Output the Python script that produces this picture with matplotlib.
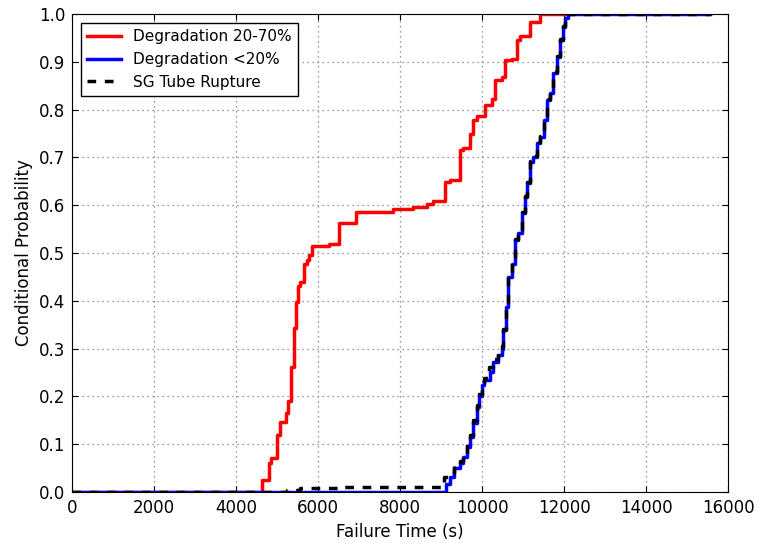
import numpy as np
import matplotlib
matplotlib.use("Agg")
import matplotlib.pyplot as plt

# failure time (s) / conditional probability
deg_high_t = [0, 4640, 4800, 4850, 4990, 5070, 5220, 5260, 5330, 5420, 5460, 5520, 5560,
              5665, 5720, 5780, 5860, 6270, 6510, 6930, 7840, 8320, 8650, 8810, 9100,
              9220, 9460, 9545, 9710, 9790, 9870, 10070, 10240, 10320, 10480, 10560,
              10725, 10850, 10930, 11170, 11410, 12100]
deg_high_p = [0.0, 0.025, 0.06, 0.071, 0.12, 0.147, 0.165, 0.19, 0.262, 0.343, 0.398, 0.43, 0.44,
              0.478, 0.485, 0.496, 0.515, 0.519, 0.563, 0.586, 0.592, 0.597, 0.602, 0.609, 0.649,
              0.652, 0.715, 0.72, 0.75, 0.778, 0.787, 0.81, 0.823, 0.862, 0.869, 0.903,
              0.906, 0.946, 0.953, 0.983, 1.0, 1.0]

deg_low_t = [0, 9120, 9220, 9320, 9460, 9545, 9640, 9710, 9790, 9870, 9935, 9990, 10050,
             10200, 10275, 10400, 10480, 10520, 10590, 10640, 10725, 10800, 10890, 10970,
             11050, 11090, 11170, 11250, 11335, 11415, 11500, 11580, 11660, 11740, 11820,
             11900, 11985, 12020, 12100, 15550]
deg_low_p = [0.0, 0.017, 0.032, 0.05, 0.06, 0.074, 0.095, 0.116, 0.144, 0.178, 0.2, 0.224, 0.234,
             0.252, 0.272, 0.287, 0.3, 0.339, 0.388, 0.45, 0.478, 0.527, 0.541, 0.584,
             0.618, 0.646, 0.691, 0.701, 0.73, 0.743, 0.778, 0.82, 0.834, 0.876, 0.911,
             0.946, 0.973, 0.991, 1.0, 1.0]

sgtr_t = [0, 5250, 5550, 6500, 9080, 9220, 9320, 9460, 9545, 9640, 9710, 9790, 9870,
          9935, 9990, 10050, 10160, 10275, 10400, 10480, 10520, 10590, 10640, 10725, 10800,
          10890, 10970, 11050, 11090, 11170, 11250, 11335, 11415, 11500, 11580, 11660,
          11740, 11820, 11900, 11985, 12020, 12080, 15550]
sgtr_p = [0.0, 0.004, 0.008, 0.011, 0.032, 0.04, 0.055, 0.065, 0.08, 0.1, 0.12, 0.15, 0.182,
          0.205, 0.228, 0.238, 0.262, 0.278, 0.292, 0.305, 0.342, 0.39, 0.452, 0.48, 0.53,
          0.543, 0.586, 0.62, 0.648, 0.693, 0.703, 0.732, 0.745, 0.78, 0.822, 0.836,
          0.878, 0.913, 0.948, 0.975, 0.993, 1.0, 1.0]

fig = plt.figure(figsize=(7.57, 5.43), dpi=100)
ax = fig.add_axes([0.0951, 0.0939, 0.8666, 0.8803])

ax.plot(deg_high_t, deg_high_p, drawstyle="steps-post", color="red", lw=2.5,
        label="Degradation 20-70%")
ax.plot(deg_low_t, deg_low_p, drawstyle="steps-post", color="blue", lw=2.5,
        label="Degradation <20%")
ax.plot(sgtr_t, sgtr_p, drawstyle="steps-post", color="black", lw=2.5, ls="--",
        dashes=(2.5, 2.5), label="SG Tube Rupture")

ax.set_xlim(0, 16000)
ax.set_ylim(0, 1.0)
ax.set_xticks(np.arange(0, 16001, 2000))
ax.set_yticks(np.arange(0, 1.01, 0.1))
ax.set_yticklabels(["%.1f" % v for v in np.arange(0, 1.01, 0.1)])
ax.tick_params(direction="in", top=True, right=True, labelsize=12, length=4, pad=5)
ax.grid(True, color="#777777", linestyle=(0, (1, 3)), linewidth=0.9)
ax.set_xlabel("Failure Time (s)", fontsize=12)
ax.set_ylabel("Conditional Probability", fontsize=12)

leg = ax.legend(loc="upper left", fontsize=11, fancybox=False, framealpha=1,
                edgecolor="black", borderaxespad=0.6, handlelength=2.2)
leg.get_frame().set_linewidth(1.0)

fig.savefig("out.png", dpi=100)
